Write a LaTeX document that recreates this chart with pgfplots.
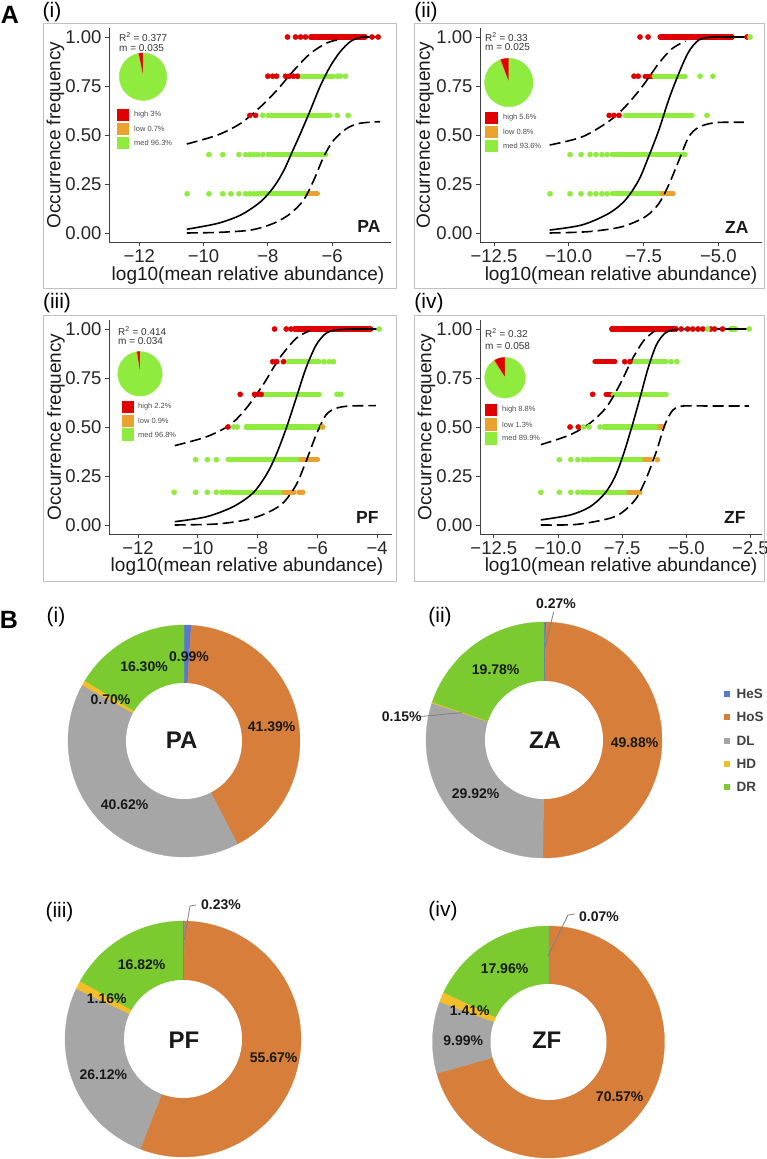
\documentclass[border=0pt]{standalone}
\usepackage{fontspec}
\setmainfont{Liberation Sans}
\usepackage{pgfplots}
\pgfplotsset{compat=1.18}

% occupancy classes
\definecolor{hi}{RGB}{225,0,0}
\definecolor{lo}{RGB}{234,162,46}
\definecolor{med}{RGB}{143,236,62}
% assembly processes
\definecolor{cHeS}{RGB}{86,120,206}
\definecolor{cHoS}{RGB}{214,126,58}
\definecolor{cDL}{RGB}{166,166,166}
\definecolor{cHD}{RGB}{242,190,42}
\definecolor{cDR}{RGB}{122,202,48}
\definecolor{frame}{RGB}{192,192,192}

\newcommand\fs[1]{\fontsize{#1}{#1}\selectfont}

\pgfplotsset{
  occ/.style={scale only axis, height=214pt, ymin=-0.046, ymax=1.046,
    axis x line*=bottom, axis y line*=left,
    axis line style={black!75, line width=0.9pt},
    tick align=outside, major tick length=4pt,
    tick style={black!75, line width=0.9pt},
    ytick={0,0.25,0.5,0.75,1}, yticklabels={0.00,0.25,0.50,0.75,1.00},
    tick label style={font=\fs{18.5}, text=black!85},
    clip=false},
  dots/.style={only marks, mark=*, mark size=2.6pt, color=#1},
  run/.style={draw=#1, line width=5.2pt, line cap=round, mark=none},
  fit/.style={black, line width=1.6pt, smooth, mark=none},
  ci/.style={black, line width=1.6pt, smooth, mark=none, dash pattern=on 11pt off 5pt},
  ringax/.style={scale only axis, hide axis, xmin=-1, xmax=1, ymin=-1, ymax=1,
    anchor=center, clip=false},
}

% slices of a pie starting at 12 o'clock; #1 = 1 (counter-clockwise) or -1 (clockwise)
\newcommand\ring[2]{%
  \gdef\cum{0}%
  \foreach \p/\clr in {#2}{%
    \pgfmathsetmacro\angA{90+(#1)*3.6*\cum}%
    \pgfmathsetmacro\angB{90+(#1)*3.6*(\cum+\p)}%
    \pgfmathsetmacro\sa{min(\angA,\angB)}%
    \pgfmathsetmacro\sb{max(\angA,\angB)}%
    \edef\tmp{\noexpand\addplot[draw=\clr, line width=0.3pt, fill=\clr,
      domain=\sa:\sb, samples=90] ({cos(x)},{sin(x)}) -- (axis cs:0,0) -- cycle;}%
    \tmp
    \pgfmathsetmacro\nxt{\cum+\p}\xdef\cum{\nxt}%
  }}
\newcommand\hole{\addplot[draw=none, fill=white, domain=0:360, samples=160]
  ({0.5*cos(x)},{0.5*sin(x)}) -- cycle;}

\begin{document}
\begin{tikzpicture}
\path[use as bounding box] (0pt,0pt) rectangle (767pt,-1159pt);

% ---------------- (i) PA ----------------
\begin{axis}[occ, at={(109pt,-242pt)}, anchor=south west, width=282pt,
  xmin=-12.94, xmax=-4.17, xtick={-12,-10,-8,-6}, xticklabels={−12,−10,−8,−6}]
\addplot[run=med] coordinates {(-7.05,0.8) (-5.96,0.8)};
\addplot[run=med] coordinates {(-8.0,0.6) (-6.06,0.6)};
\addplot[run=med] coordinates {(-8.0,0.4) (-6.2,0.4)};
\addplot[run=med] coordinates {(-8.22,0.2) (-6.77,0.2)};
\addplot[run=lo] coordinates {(-6.77,0.2) (-6.46,0.2)};
\addplot[run=hi] coordinates {(-6.67,1) (-4.97,1)};
\addplot[dots=hi] coordinates {(-7.39,1) (-7.14,1) (-6.98,1) (-6.83,1) (-4.76,1) (-4.57,1)
  (-8.0,0.8) (-7.85,0.8) (-7.73,0.8) (-7.45,0.8) (-7.33,0.8) (-7.2,0.8) (-7.08,0.8)
  (-8.56,0.6) (-8.38,0.6)};
\addplot[dots=med] coordinates {(-5.84,0.8) (-5.75,0.8) (-5.59,0.8)
  (-8.16,0.6) (-5.84,0.6) (-5.5,0.6)
  (-9.83,0.4) (-9.4,0.4) (-8.9,0.4) (-8.69,0.4) (-8.56,0.4) (-8.44,0.4) (-8.31,0.4) (-8.16,0.4)
  (-10.51,0.2) (-9.83,0.2) (-9.4,0.2) (-9.15,0.2) (-8.9,0.2) (-8.69,0.2) (-8.56,0.2) (-8.44,0.2) (-8.31,0.2)};
\addplot[fit] coordinates {(-10.52,0.019) (-9.56,0.049) (-8.84,0.092) (-8.22,0.16) (-7.81,0.236)
  (-7.50,0.32) (-7.24,0.415) (-6.98,0.51) (-6.67,0.63) (-6.37,0.75) (-6.06,0.85) (-5.75,0.925)
  (-5.44,0.976) (-5.13,0.998) (-4.8,1.0) (-4.51,1.0)};
\addplot[ci] coordinates {(-10.52,0.454) (-9.56,0.5) (-8.84,0.56) (-8.22,0.645) (-7.71,0.73)
  (-7.19,0.83) (-6.67,0.917) (-6.16,0.97) (-5.84,0.985)};
\addplot[ci] coordinates {(-10.52,0.0) (-9.56,0.003) (-8.53,0.015) (-7.81,0.05) (-7.29,0.1)
  (-6.88,0.17) (-6.57,0.27) (-6.26,0.39) (-5.95,0.474) (-5.54,0.534) (-5.13,0.56) (-4.51,0.568)};
\end{axis}

% ---------------- (ii) ZA ----------------
\begin{axis}[occ, at={(480pt,-242pt)}, anchor=south west, width=282pt,
  xmin=-12.97, xmax=-3.54, xtick={-12.5,-10,-7.5,-5}, xticklabels={−12.5,−10.0,−7.5,−5.0}]
\addplot[run=hi] coordinates {(-7.45,0.8) (-7.15,0.8)};
\addplot[run=med] coordinates {(-7.15,0.8) (-6.11,0.8)};
\addplot[run=med] coordinates {(-8.12,0.6) (-5.88,0.6)};
\addplot[run=med] coordinates {(-8.55,0.4) (-6.11,0.4)};
\addplot[run=med] coordinates {(-8.55,0.2) (-6.88,0.2)};
\addplot[run=lo] coordinates {(-6.88,0.2) (-6.51,0.2)};
\addplot[run=hi] coordinates {(-6.95,1) (-4.54,1)};
\addplot[dots=hi] coordinates {(-7.62,1) (-7.35,1) (-4.04,1) (-7.82,0.8) (-7.68,0.8)
  (-8.65,0.6) (-8.49,0.6) (-8.32,0.6)};
\addplot[dots=med] coordinates {(-3.94,1) (-5.61,0.8) (-5.18,0.8) (-5.38,0.6)
  (-9.96,0.4) (-9.59,0.4) (-9.29,0.4) (-9.09,0.4) (-8.89,0.4) (-8.72,0.4)
  (-10.63,0.2) (-9.96,0.2) (-9.59,0.2) (-9.29,0.2) (-9.09,0.2) (-8.89,0.2) (-8.72,0.2)};
\addplot[fit] coordinates {(-10.64,0.015) (-9.56,0.041) (-8.66,0.10) (-8.11,0.168) (-7.66,0.27)
  (-7.33,0.39) (-6.99,0.525) (-6.66,0.68) (-6.32,0.815) (-5.99,0.925) (-5.65,0.985) (-5.21,1.0)
  (-4.6,1.0) (-3.93,1.0)};
\addplot[ci] coordinates {(-10.64,0.449) (-9.56,0.49) (-8.66,0.57) (-8.11,0.645) (-7.55,0.746)
  (-6.99,0.866) (-6.55,0.94) (-6.1,0.98)};
\addplot[ci] coordinates {(-10.64,0.0) (-9.33,0.007) (-8.22,0.032) (-7.44,0.083) (-6.99,0.15)
  (-6.66,0.245) (-6.32,0.37) (-5.99,0.49) (-5.65,0.54) (-5.1,0.563) (-4.15,0.565)};
\end{axis}

% ---------------- (iii) PF ----------------
\begin{axis}[occ, at={(109pt,-534pt)}, anchor=south west, width=283pt,
  xmin=-12.97, xmax=-3.50, xtick={-12,-10,-8,-6,-4}, xticklabels={−12,−10,−8,−6,−4}]
\addplot[run=med] coordinates {(-6.99,0.8333) (-5.93,0.8333)};
\addplot[run=med] coordinates {(-7.79,0.6667) (-5.93,0.6667)};
\addplot[run=med] coordinates {(-8.38,0.5) (-5.93,0.5)};
\addplot[run=med] coordinates {(-8.99,0.3333) (-6.54,0.3333)};
\addplot[run=lo] coordinates {(-6.54,0.3333) (-5.99,0.3333)};
\addplot[run=med] coordinates {(-8.82,0.1667) (-7.1,0.1667)};
\addplot[run=lo] coordinates {(-7.1,0.1667) (-6.77,0.1667)};
\addplot[run=hi] coordinates {(-6.77,1) (-4.21,1)};
\addplot[dots=hi] coordinates {(-7.43,1) (-7.04,1) (-6.88,1)
  (-7.49,0.8333) (-7.36,0.8333) (-7.13,0.8333)
  (-8.58,0.6667) (-8.1,0.6667) (-7.99,0.6667) (-7.88,0.6667) (-8.99,0.5)};
\addplot[dots=med] coordinates {(-3.93,1) (-5.77,0.8333) (-5.6,0.8333) (-5.46,0.8333)
  (-5.34,0.6667) (-5.21,0.6667) (-8.8,0.5) (-8.68,0.5)
  (-10.07,0.3333) (-9.68,0.3333) (-9.38,0.3333)
  (-10.79,0.1667) (-10.07,0.1667) (-9.68,0.1667) (-9.38,0.1667) (-9.18,0.1667) (-9.04,0.1667) (-8.9,0.1667)};
\addplot[dots=lo] coordinates {(-5.82,0.5) (-6.6,0.1667) (-6.49,0.1667)};
\addplot[fit] coordinates {(-10.77,0.017) (-9.71,0.042) (-8.82,0.093) (-8.16,0.162) (-7.71,0.255)
  (-7.38,0.357) (-7.04,0.493) (-6.71,0.646) (-6.38,0.8) (-6.04,0.918) (-5.71,0.978) (-5.38,0.995)
  (-4.8,1.0) (-3.93,1.0)};
\addplot[ci] coordinates {(-10.77,0.405) (-9.71,0.45) (-8.93,0.51) (-8.38,0.595) (-7.82,0.714)
  (-7.27,0.85) (-6.71,0.952) (-6.27,0.99)};
\addplot[ci] coordinates {(-10.77,0.0) (-9.38,0.005) (-8.38,0.026) (-7.71,0.06) (-7.16,0.11)
  (-6.71,0.204) (-6.38,0.323) (-6.04,0.459) (-5.71,0.561) (-5.38,0.595) (-4.93,0.607) (-4.04,0.609)};
\end{axis}

% ---------------- (iv) ZF ----------------
\begin{axis}[occ, at={(480pt,-534pt)}, anchor=south west, width=282pt,
  xmin=-13.04, xmax=-2.05, xtick={-12.5,-10,-7.5,-5,-2.5}, xticklabels={−12.5,−10.0,−7.5,−5.0,−2.5}]
\addplot[run=hi] coordinates {(-8.56,0.8333) (-7.78,0.8333)};
\addplot[run=med] coordinates {(-7.14,0.8333) (-5.78,0.8333)};
\addplot[run=hi] coordinates {(-8.13,0.6667) (-7.85,0.6667)};
\addplot[run=med] coordinates {(-7.85,0.6667) (-5.78,0.6667)};
\addplot[run=med] coordinates {(-8.21,0.5) (-6.04,0.5)};
\addplot[run=lo] coordinates {(-6.04,0.5) (-5.91,0.5)};
\addplot[run=med] coordinates {(-8.69,0.3333) (-6.62,0.3333)};
\addplot[run=lo] coordinates {(-6.62,0.3333) (-6.36,0.3333)};
\addplot[run=med] coordinates {(-8.75,0.1667) (-7.23,0.1667)};
\addplot[run=lo] coordinates {(-7.23,0.1667) (-6.81,0.1667)};
\addplot[run=hi] coordinates {(-7.91,1) (-5.4,1)};
\addplot[run=med] coordinates {(-3.28,1) (-3.08,1)};
\addplot[dots=hi] coordinates {(-5.2,1) (-4.95,1) (-4.75,1) (-4.55,1) (-4.36,1) (-4.05,1) (-3.9,1) (-3.59,1)
  (-7.4,0.8333) (-7.2,0.8333) (-8.65,0.6667) (-9.53,0.5) (-9.21,0.5)};
\addplot[dots=med] coordinates {(-4.17,1) (-2.55,1) (-5.59,0.8333) (-5.37,0.8333)
  (-9.01,0.5) (-8.79,0.5) (-8.36,0.5)
  (-9.95,0.3333) (-9.5,0.3333) (-9.23,0.3333) (-9.01,0.3333) (-8.85,0.3333)
  (-10.67,0.1667) (-9.95,0.1667) (-9.5,0.1667) (-9.23,0.1667) (-9.04,0.1667) (-8.88,0.1667)};
\addplot[dots=lo] coordinates {(-6.13,0.3333)};
\addplot[fit] coordinates {(-10.67,0.026) (-9.53,0.051) (-8.75,0.093) (-8.17,0.162) (-7.78,0.246)
  (-7.46,0.357) (-7.14,0.493) (-6.81,0.646) (-6.49,0.80) (-6.17,0.918) (-5.84,0.978) (-5.52,0.995)
  (-4.9,1.0) (-3.5,1.0) (-2.55,1.0)};
\addplot[ci] coordinates {(-10.67,0.41) (-9.53,0.46) (-8.75,0.52) (-8.12,0.6) (-7.6,0.714)
  (-7.09,0.85) (-6.64,0.944) (-6.23,0.99)};
\addplot[ci] coordinates {(-10.67,0.0) (-9.27,0.003) (-7.98,0.034) (-7.46,0.068) (-6.95,0.136)
  (-6.56,0.238) (-6.17,0.374) (-5.84,0.51) (-5.52,0.587) (-5.14,0.607) (-4.0,0.607) (-2.55,0.607)};
\end{axis}

% ---------------- occupancy pies ----------------
\begin{axis}[ringax, at={(143pt,-76.7pt)}, width=47.4pt, height=47.4pt]
\ring{1}{3/hi, 0.7/lo, 96.3/med}
\end{axis}
\begin{axis}[ringax, at={(508.8pt,-82.5pt)}, width=48.4pt, height=48.4pt]
\ring{1}{5.6/hi, 0.8/lo, 93.6/med}
\end{axis}
\begin{axis}[ringax, at={(140pt,-373.8pt)}, width=44.4pt, height=44.4pt]
\ring{1}{2.2/hi, 0.9/lo, 96.8/med}
\end{axis}
\begin{axis}[ringax, at={(505pt,-377.7pt)}, width=40.6pt, height=40.6pt]
\ring{1}{8.8/hi, 1.3/lo, 89.9/med}
\end{axis}

% ---------------- process donuts ----------------
\begin{axis}[ringax, at={(184pt,-741pt)}, width=232pt, height=232pt]
\ring{-1}{0.99/cHeS, 41.39/cHoS, 40.62/cDL, 0.70/cHD, 16.30/cDR}
\hole
\end{axis}
\begin{axis}[ringax, at={(544pt,-740pt)}, width=236pt, height=236pt]
\ring{-1}{0.27/cHeS, 49.88/cHoS, 29.92/cDL, 0.15/cHD, 19.78/cDR}
\hole
\end{axis}
\begin{axis}[ringax, at={(183pt,-1039pt)}, width=236pt, height=236pt]
\ring{-1}{0.23/cHeS, 55.67/cHoS, 26.12/cDL, 1.16/cHD, 16.82/cDR}
\hole
\end{axis}
\begin{axis}[ringax, at={(548.5pt,-1042pt)}, width=232pt, height=232pt]
\ring{-1}{0.07/cHeS, 70.57/cHoS, 9.99/cDL, 1.41/cHD, 17.96/cDR}
\hole
\end{axis}

% ---------------- frames, titles and annotations ----------------
\begin{scope}[x=1pt, y=-1pt]
\draw[frame, line width=1pt] (43,23) rectangle (396,288);
\draw[frame, line width=1pt] (414,23) rectangle (764,288);
\draw[frame, line width=1pt] (43,315) rectangle (396,581);
\draw[frame, line width=1pt] (414,315) rectangle (764,581);

\node[font=\bfseries\fs{25}] at (10,15) {A};
\node[font=\fs{21}] at (52,12) {(i)};
\node[font=\fs{21}] at (426,12) {(ii)};
\node[font=\fs{21}] at (57,303) {(iii)};
\node[font=\fs{21}] at (429,303) {(iv)};

\foreach \cx/\cy in {55.5/135, 425/135, 56/427, 426.5/427}
  \node[rotate=90, font=\fs{19}, text=black!90] at (\cx,\cy) {Occurrence frequency};
\foreach \cx/\cy in {248/276, 621/276, 247/567, 621/567}
  \node[font=\fs{19}, text=black!90] at (\cx,\cy) {log10(mean relative abundance)};

\node[anchor=east, font=\bfseries\fs{17.5}, text=black!90] at (384,226) {PA};
\node[anchor=east, font=\bfseries\fs{17.5}, text=black!90] at (752,227) {ZA};
\node[anchor=east, font=\bfseries\fs{17.5}, text=black!90] at (382,517) {PF};
\node[anchor=east, font=\bfseries\fs{17.5}, text=black!90] at (749,517) {ZF};

\begin{scope}[every node/.style={anchor=west, inner sep=0pt, font=\fs{10}, text=black!80}]
\node at (119,37) {R\textsuperscript{2} = 0.377};
\node at (119,48) {m = 0.035};
\node at (485,37) {R\textsuperscript{2} = 0.33};
\node at (485,47.5) {m = 0.025};
\node at (118,331) {R\textsuperscript{2} = 0.414};
\node at (118,341.5) {m = 0.034};
\node at (485,333) {R\textsuperscript{2} = 0.32};
\node at (485,346) {m = 0.058};
\end{scope}

\begin{scope}[every node/.style={anchor=west, inner sep=0pt, font=\fs{7.5}, text=black!70}]
\fill[hi] (117,108.5) rectangle (129.3,121);
\fill[lo] (117,122.5) rectangle (129.3,135);
\fill[med] (117,136.5) rectangle (129.3,149);
\node at (134,115) {high 3\%};
\node at (134,129) {low 0.7\%};
\node at (134,143) {med 96.3\%};
\fill[hi] (485,111.5) rectangle (498,124);
\fill[lo] (485,125.5) rectangle (498,138);
\fill[med] (485,139.5) rectangle (498,152);
\node at (503,118) {high 5.6\%};
\node at (503,132) {low 0.8\%};
\node at (503,146) {med 93.6\%};
\fill[hi] (122,401) rectangle (133.5,413);
\fill[lo] (122,414.5) rectangle (133.5,426.5);
\fill[med] (122,428) rectangle (133.5,440.5);
\node at (138,407) {high 2.2\%};
\node at (138,420.5) {low 0.9\%};
\node at (138,434.5) {med 96.8\%};
\fill[hi] (485,404) rectangle (497,416);
\fill[lo] (485,418) rectangle (497,430.5);
\fill[med] (485,432) rectangle (497,444.5);
\node at (502,410) {high 8.8\%};
\node at (502,424.5) {low 1.3\%};
\node at (502,438) {med 89.9\%};
\end{scope}

% part B
\node[font=\bfseries\fs{25}] at (9,620) {B};
\node[font=\fs{21}] at (56,617) {(i)};
\node[font=\fs{21}] at (440,617) {(ii)};
\node[font=\fs{21}] at (59.5,912) {(iii)};
\node[font=\fs{21}] at (443,911) {(iv)};

\draw[black!50, line width=0.8pt] (545.3,646.7) -- (553.7,611.7);
\draw[black!50, line width=0.8pt] (420.3,716.5) -- (462,712.7);
\draw[black!50, line width=0.8pt] (184.3,940) -- (190,906) -- (196,905);
\draw[black!50, line width=0.8pt] (548,956) -- (568,915) -- (575,914);

\begin{scope}[every node/.style={font=\bfseries\fs{14}, text=black!90}]
\node at (189,657) {0.99\%};
\node at (144,667) {16.30\%};
\node at (110.5,700) {0.70\%};
\node at (271.7,727) {41.39\%};
\node at (124.7,805) {40.62\%};
\node at (556,603.3) {0.27\%};
\node at (401.7,716.7) {0.15\%};
\node at (495.7,670) {19.78\%};
\node at (634.5,742.7) {49.88\%};
\node at (475.7,793.3) {29.92\%};
\node at (221,905) {0.23\%};
\node at (141.7,965) {16.82\%};
\node at (106.7,999) {1.16\%};
\node at (273.7,1057.7) {55.67\%};
\node at (103.3,1074.3) {26.12\%};
\node at (599,916.7) {0.07\%};
\node at (504.5,969) {17.96\%};
\node at (469.8,1010.7) {1.41\%};
\node at (463.2,1040.7) {9.99\%};
\node at (619.7,1096.7) {70.57\%};
\end{scope}
\begin{scope}[every node/.style={font=\bfseries\fs{24}, text=black!90}]
\node at (181.7,740) {PA};
\node at (545,740) {ZA};
\node at (184,1040) {PF};
\node at (546.7,1040.7) {ZF};
\end{scope}

\foreach \lab/\clr [count=\i] in {HeS/cHeS, HoS/cHoS, DL/cDL, HD/cHD, DR/cDR}{
  \fill[\clr] (723.5,{691+23.3*(\i-1)}) rectangle ++(6,6);
  \node[anchor=west, font=\bfseries\fs{13.5}, text=black!75] at (733,{694+23.3*(\i-1)}) {\lab};
}
\end{scope}
\end{tikzpicture}
\end{document}
